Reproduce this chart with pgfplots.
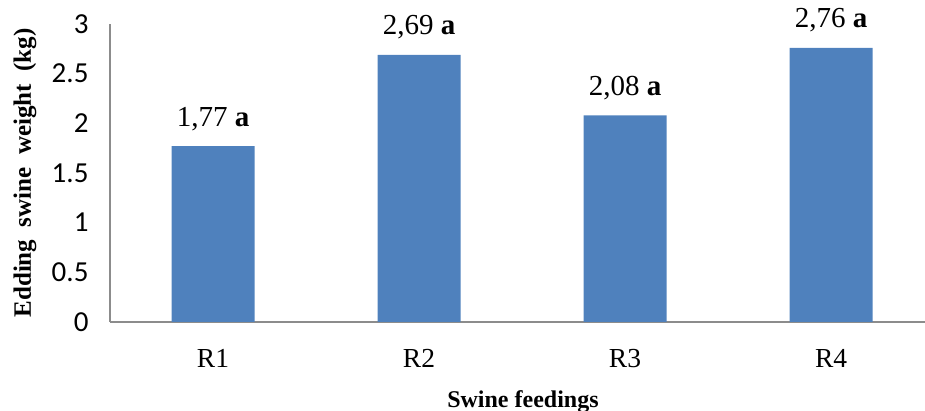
\documentclass[border=0pt]{standalone}
\usepackage{fontspec}
\setmainfont{Liberation Serif}
\newfontfamily\calibri{Carlito}
\usepackage{pgfplots}
\usepackage{pgfplotstable}
\pgfplotsset{compat=1.18}
\definecolor{barblue}{HTML}{4F81BD}
\definecolor{axgray}{HTML}{8C8C8C}
\pgfplotstableread{
x y label
0 1.77 {1,77}
1 2.69 {2,69}
2 2.08 {2,08}
3 2.76 {2,76}
}\datatab
\begin{document}
\begin{tikzpicture}
\begin{axis}[
  scale only axis,
  width=815pt, height=298pt,
  xmin=-0.5, xmax=3.456,
  ymin=0, ymax=3,
  axis x line=bottom, axis y line=left,
  axis line style={-, axgray, line width=1.2pt},
  major tick length=0pt,
  xtick={0,1,2,3},
  xticklabels={R1,R2,R3,R4},
  ytick={0,0.5,1,1.5,2,2.5,3},
  yticklabels={0,0.5,1,1.5,2,2.5,3},
  yticklabel style={font=\fontsize{29}{29}\selectfont\calibri, xshift=-18pt},
  xticklabel style={font=\fontsize{27.5}{27.5}\selectfont, yshift=-24pt},
  xlabel={Swine feedings},
  ylabel={Edding\hspace{0.5em}swine\hspace{0.5em}weight\hspace{0.5em}(kg)},
  xlabel style={font=\fontsize{24}{24}\selectfont\bfseries, at={(axis description cs:0.5067,-0.268)}, anchor=center},
  ylabel style={font=\fontsize{25}{25}\selectfont\bfseries, at={(axis description cs:-0.1043,0.5)}, anchor=center},
  clip=false,
]
\addplot[ybar, bar width=83pt, fill=barblue, draw=none,
  point meta=explicit symbolic,
  nodes near coords={\pgfplotspointmeta\ \textbf{a}},
  every node near coord/.append style={font=\fontsize{29}{29}\selectfont, black, anchor=south, yshift=12pt}
] table[x=x, y=y, meta=label] {\datatab};
\end{axis}
\pgfresetboundingbox
\path ([xshift=-110pt, yshift=-89pt]current axis.south west) rectangle ([yshift=24pt]current axis.north east);
\end{tikzpicture}
\end{document}
